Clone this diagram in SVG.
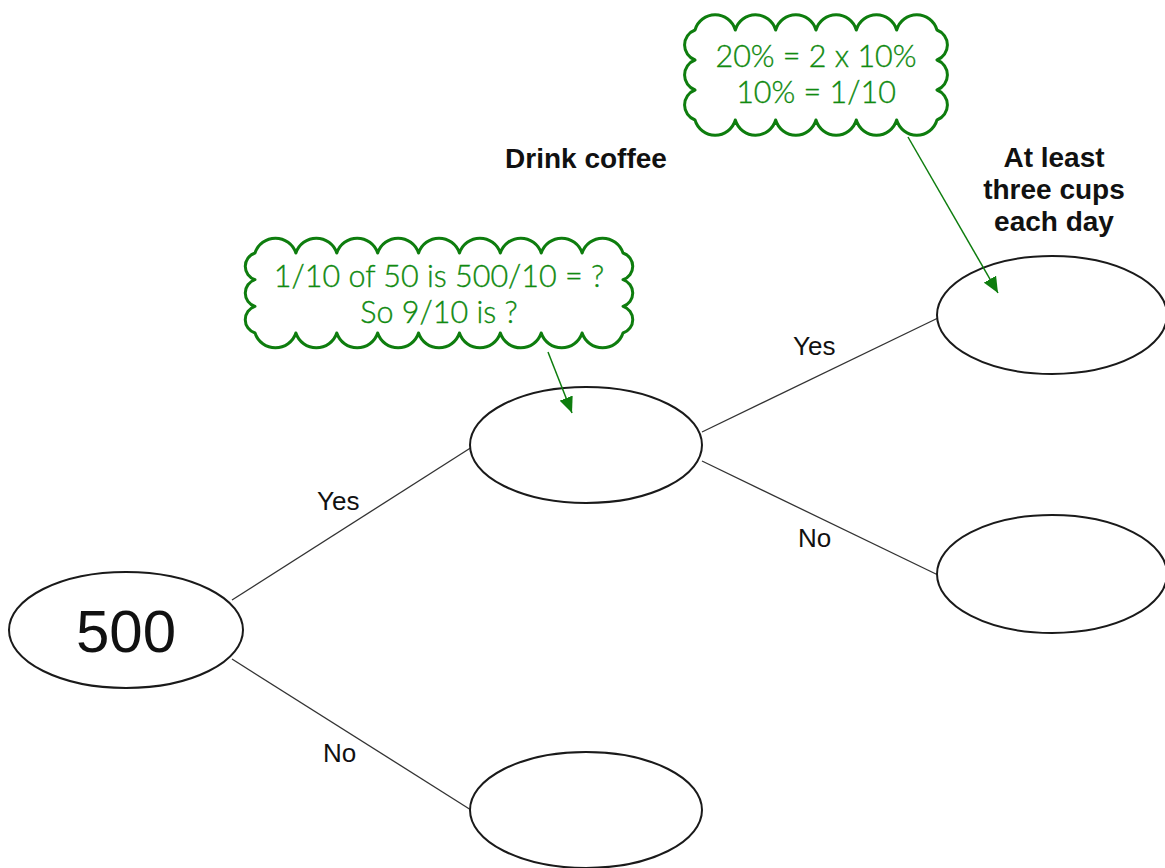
<svg xmlns="http://www.w3.org/2000/svg" width="1165" height="868" viewBox="0 0 1165 868">
<style>
.node{fill:#fff;stroke:#1a1a1a;stroke-width:2}
.edge{stroke:#333;stroke-width:1.3;fill:none}
.lbl{font-family:"Liberation Sans",Arial,sans-serif;font-size:26px;fill:#111}
.head{font-family:"Liberation Sans",Arial,sans-serif;font-size:28px;font-weight:bold;fill:#111;text-anchor:middle}
.cloud{fill:#fff;stroke:#0e7d0e;stroke-width:3;stroke-linejoin:round}
.ctext{font-family:Lato,"Open Sans",sans-serif;font-weight:300;font-size:30.5px;fill:#108a10;stroke:#108a10;stroke-width:0.35;text-anchor:middle}
.callout{stroke:#0e7d0e;stroke-width:1.5;fill:none}
</style>
<defs>
<marker id="arr" markerUnits="userSpaceOnUse" markerWidth="16" markerHeight="14" viewBox="0 0 16 14" refX="16" refY="7" orient="auto">
<path d="M0,0 L16,7 L0,14 Z" fill="#0e7d0e"/>
</marker>
</defs>
<g id="connectors">
<line class="edge" x1="232" y1="600" x2="472" y2="447"/>
<line class="edge" x1="232" y1="659" x2="471" y2="810"/>
<line class="edge" x1="702" y1="432" x2="938" y2="318"/>
<line class="edge" x1="702" y1="461" x2="938" y2="575"/>
<text class="lbl" x="317" y="510">Yes</text>
<text class="lbl" x="323" y="762">No</text>
<text class="lbl" x="793" y="355">Yes</text>
<text class="lbl" x="798" y="547">No</text>
</g>
<g id="node-500">
<ellipse class="node" cx="126" cy="630" rx="117" ry="58"/>
<text x="126" y="652" font-family="Liberation Sans,Arial,sans-serif" font-size="60" text-anchor="middle" fill="#111">500</text>
</g>
<g id="node-coffee-yes">
<ellipse class="node" cx="586" cy="445" rx="116" ry="58"/>
</g>
<g id="node-coffee-no">
<ellipse class="node" cx="586" cy="810" rx="116" ry="58"/>
</g>
<g id="node-cups-yes">
<ellipse class="node" cx="1052" cy="315" rx="115" ry="59"/>
</g>
<g id="node-cups-no">
<ellipse class="node" cx="1052" cy="574" rx="115" ry="59"/>
</g>
<g id="heading-coffee">
<text class="head" x="586" y="168">Drink coffee</text>
</g>
<g id="heading-cups">
<text class="head" x="1054" y="167">At least</text>
<text class="head" x="1054" y="199">three cups</text>
<text class="head" x="1054" y="231">each day</text>
</g>
<g id="cloud-top">
<path class="cloud" d="M695,30 a21,21 0 0 1 40.33,0 a21,21 0 0 1 40.33,0 a21,21 0 0 1 40.33,0 a21,21 0 0 1 40.33,0 a21,21 0 0 1 40.33,0 a21,21 0 0 1 40.33,0 a16,16 0 0 1 0,30 a16,16 0 0 1 0,30 a16,16 0 0 1 0,30 a21,21 0 0 1 -40.33,0 a21,21 0 0 1 -40.33,0 a21,21 0 0 1 -40.33,0 a21,21 0 0 1 -40.33,0 a21,21 0 0 1 -40.33,0 a21,21 0 0 1 -40.33,0 a16,16 0 0 1 0,-30 a16,16 0 0 1 0,-30 a16,16 0 0 1 0,-30 Z"/>
<text class="ctext" x="816" y="67">20% = 2 x 10%</text>
<text class="ctext" x="816" y="103">10% = 1/10</text>
</g>
<g id="cloud-mid">
<path class="cloud" d="M255,253 a21.5,21.5 0 0 1 40.89,0 a21.5,21.5 0 0 1 40.89,0 a21.5,21.5 0 0 1 40.89,0 a21.5,21.5 0 0 1 40.89,0 a21.5,21.5 0 0 1 40.89,0 a21.5,21.5 0 0 1 40.89,0 a21.5,21.5 0 0 1 40.89,0 a21.5,21.5 0 0 1 40.89,0 a21.5,21.5 0 0 1 40.89,0 a14,14 0 0 1 0,26.67 a14,14 0 0 1 0,26.67 a14,14 0 0 1 0,26.67 a21.5,21.5 0 0 1 -40.89,0 a21.5,21.5 0 0 1 -40.89,0 a21.5,21.5 0 0 1 -40.89,0 a21.5,21.5 0 0 1 -40.89,0 a21.5,21.5 0 0 1 -40.89,0 a21.5,21.5 0 0 1 -40.89,0 a21.5,21.5 0 0 1 -40.89,0 a21.5,21.5 0 0 1 -40.89,0 a21.5,21.5 0 0 1 -40.89,0 a14,14 0 0 1 0,-26.67 a14,14 0 0 1 0,-26.67 a14,14 0 0 1 0,-26.67 Z"/>
<text class="ctext" x="439" y="287">1/10 of 50 is 500/10 = ?</text>
<text class="ctext" x="439" y="323">So 9/10 is ?</text>
</g>
<g id="callouts">
<line class="callout" x1="908" y1="137" x2="998" y2="293" marker-end="url(#arr)"/>
<line class="callout" x1="548" y1="352" x2="572" y2="413" marker-end="url(#arr)"/>
</g>
</svg>
